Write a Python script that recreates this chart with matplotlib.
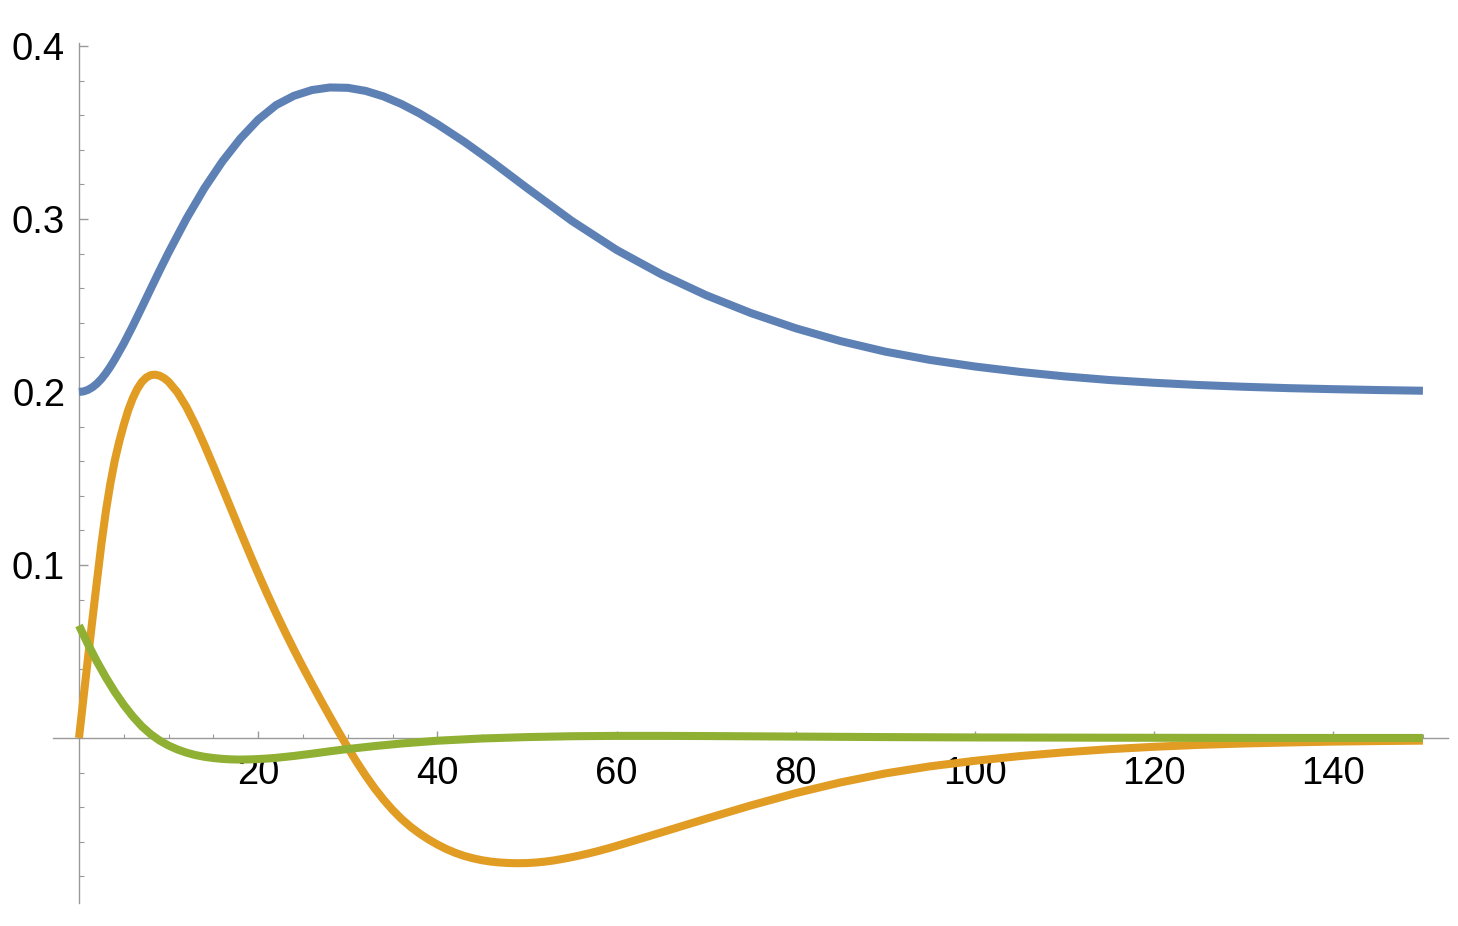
import numpy as np
import matplotlib.pyplot as plt
from matplotlib.ticker import MultipleLocator, FixedLocator

plt.rcParams['font.family'] = ['Liberation Sans', 'DejaVu Sans']

# curve values
x_blue = [0, 0.5, 1, 1.5, 2, 2.5, 3, 3.5, 4, 5, 6, 7, 8, 9, 10, 12, 14, 16, 18,
          20, 22, 24, 26, 28, 30, 32, 34, 36, 38, 40, 43, 46, 50, 55, 60, 65,
          70, 75, 80, 85, 90, 95, 100, 105, 110, 115, 120, 125, 130, 135, 140,
          145, 150]
y_blue = [0.2000, 0.2003, 0.2012, 0.2027, 0.2048, 0.2075, 0.2108, 0.2146, 0.2188,
          0.2280, 0.2381, 0.2487, 0.2595, 0.2702, 0.2806, 0.3002, 0.3178, 0.3332,
          0.3464, 0.3574, 0.3658, 0.3712, 0.3745, 0.3760, 0.3758, 0.3740, 0.3708,
          0.3664, 0.3610, 0.3548, 0.3446, 0.3335, 0.3179, 0.2989, 0.2821, 0.2680,
          0.2559, 0.2456, 0.2368, 0.2294, 0.2233, 0.2185, 0.2147, 0.2116, 0.2090,
          0.2069, 0.2053, 0.2040, 0.2030, 0.2022, 0.2016, 0.2011, 0.2007]

x_orange = [0, 0.5, 1, 1.5, 2, 2.5, 3, 3.5, 4, 4.5, 5, 5.5, 6, 6.5, 7, 7.5, 8,
            8.5, 9, 9.5, 10, 11, 12, 13, 14, 15, 16, 17, 18, 19, 20, 21, 22, 23,
            24, 25, 26, 27, 28, 29, 30, 31, 32, 33, 34, 35, 36, 37, 38, 39, 40,
            41, 42, 43, 44, 45, 46, 47, 48, 49, 50, 51, 52, 53, 54, 55, 56, 57,
            58, 59, 60, 62, 65, 70, 75, 80, 85, 90, 95, 100, 105, 110, 115, 120,
            125, 130, 135, 140, 145, 150]
y_orange = [0.0, 0.023, 0.046, 0.0685, 0.0905, 0.112, 0.131, 0.147, 0.1605,
            0.1715, 0.1810, 0.1895, 0.1963, 0.2017, 0.2057, 0.2083, 0.2097,
            0.2100, 0.2094, 0.2080, 0.2059, 0.1997, 0.1912, 0.1809, 0.1694,
            0.1572, 0.1447, 0.1321, 0.1195, 0.1071, 0.0950, 0.0833, 0.0721,
            0.0613, 0.0509, 0.0409, 0.0312, 0.0217, 0.0124, 0.0033, -0.0055,
            -0.0139, -0.0218, -0.0291, -0.0357, -0.0416, -0.0468, -0.0513,
            -0.0552, -0.0586, -0.0616, -0.0642, -0.0664, -0.0682, -0.0696,
            -0.0707, -0.0715, -0.0720, -0.0723, -0.0724, -0.0723, -0.0720,
            -0.0715, -0.0708, -0.0699, -0.0689, -0.0678, -0.0666, -0.0653,
            -0.0639, -0.0624, -0.0593, -0.0546, -0.0467, -0.0390, -0.0319,
            -0.0257, -0.0205, -0.0164, -0.0132, -0.0105, -0.0083, -0.0065,
            -0.0051, -0.0040, -0.0032, -0.0026, -0.0021, -0.0018, -0.00155]

x_green = [0, 1, 2, 3, 4, 5, 6, 7, 8, 9, 10, 11, 12, 13, 14, 15, 16, 17, 18, 19,
           20, 21, 22, 24, 26, 28, 30, 33, 36, 40, 45, 50, 55, 60, 65, 70, 80,
           90, 100, 110, 120, 135, 150]
y_green = [0.0650, 0.0542, 0.0442, 0.0350, 0.0266, 0.0191, 0.0125, 0.0068, 0.0022,
           -0.0015, -0.0044, -0.0067, -0.0085, -0.0099, -0.0109, -0.0116, -0.0121,
           -0.0124, -0.0125, -0.0124, -0.0122, -0.0119, -0.0115, -0.0104, -0.0091,
           -0.0077, -0.0064, -0.0047, -0.0032, -0.0016, -0.0003, 0.0005, 0.0010,
           0.0012, 0.0012, 0.0011, 0.0008, 0.0005, 0.0003, 0.0002, 0.0001, 0.0,
           0.0]

x_ticks = [20, 40, 60, 80, 100, 120, 140]
y_ticks = [0.1, 0.2, 0.3, 0.4]

fig = plt.figure(figsize=(14.58, 9.26), dpi=100)
ax = fig.add_axes([53/1458, 23/926, 1395/1458, 860/926])

for xs, ys, c in [(x_blue, y_blue, '#5E81B5'),
                  (x_orange, y_orange, '#E19C24'),
                  (x_green, y_green, '#8FB032')]:
    ax.plot(xs, ys, color=c, lw=5.8, solid_capstyle='butt', solid_joinstyle='round', zorder=3)

ax.set_xlim(-2.9, 152.8)
ax.set_ylim(-0.0954, 0.4017)

for s in ['top', 'right']:
    ax.spines[s].set_visible(False)
ax.spines['left'].set_position(('data', 0))
ax.spines['bottom'].set_position(('data', 0))
for s in ['left', 'bottom']:
    ax.spines[s].set_color('#999999')
    ax.spines[s].set_linewidth(1.0)
    ax.spines[s].set_zorder(1)

ax.xaxis.set_major_locator(FixedLocator(x_ticks))
ax.xaxis.set_minor_locator(MultipleLocator(5))
ax.yaxis.set_major_locator(FixedLocator(y_ticks))
ax.yaxis.set_minor_locator(MultipleLocator(0.02))
ax.set_xticklabels([str(v) for v in x_ticks])
ax.set_yticklabels(['%.1f' % v for v in y_ticks])

ax.tick_params(axis='x', which='major', direction='in', length=5, width=1, color='#999999', pad=13, labelsize=27.5)
ax.tick_params(axis='x', which='minor', direction='in', length=3, width=0.8, color='#999999')
ax.tick_params(axis='y', which='major', direction='in', length=6.5, width=1, color='#999999', pad=10, labelsize=27.5)
ax.tick_params(axis='y', which='minor', direction='in', length=3.6, width=0.8, color='#999999')

plt.savefig('out.png', dpi=100)
